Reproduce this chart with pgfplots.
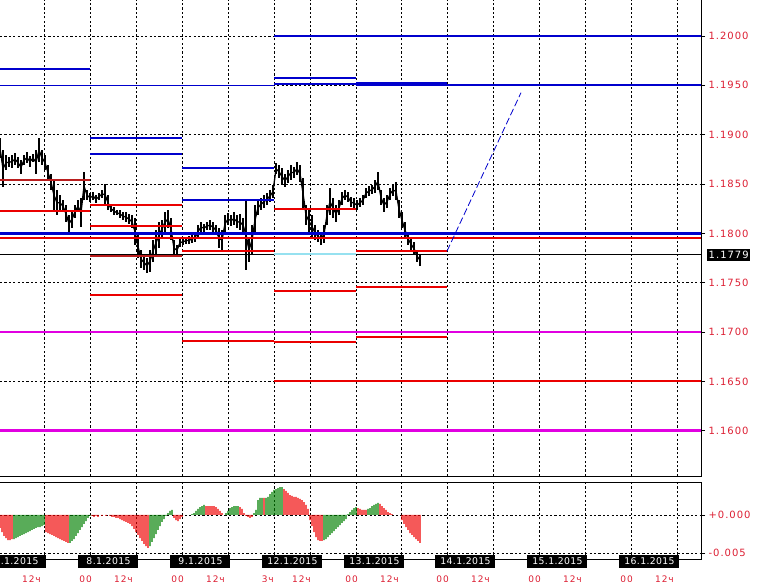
\documentclass[border=0pt]{standalone}
\usepackage{fontspec}
\setmainfont{DejaVu Sans}
\newfontfamily\lblfont[LetterSpace=10]{DejaVu Sans}
\newfontfamily\datefont[LetterSpace=4]{DejaVu Sans}
\usepackage{pgfplots}
\usepackage{pgfplotstable}
\pgfplotsset{compat=1.18}
\definecolor{lvblue}{RGB}{0,0,205}
\definecolor{lvred}{RGB}{235,0,0}
\definecolor{lvdred}{RGB}{185,30,30}
\definecolor{lvmag}{RGB}{225,0,225}
\definecolor{lvcyan}{RGB}{150,225,240}
\definecolor{lblred}{RGB}{220,30,50}
\definecolor{hgreen}{RGB}{0,128,0}
\definecolor{hred}{RGB}{240,0,0}

\pgfplotstableread{
x high low
0 1.18965 1.18763
3 1.18844 1.18469
6 1.18793 1.18641
9 1.18773 1.18672
12 1.18793 1.18662
15 1.18813 1.18692
18 1.18773 1.18662
21 1.18743 1.18601
24 1.18793 1.18692
27 1.18824 1.18712
30 1.18783 1.18672
33 1.18803 1.18722
36 1.18844 1.18601
39 1.18965 1.18722
42 1.18844 1.18692
45 1.18793 1.18641
48 1.18692 1.18540
51 1.18601 1.18439
54 1.18540 1.18236
57 1.18439 1.18185
60 1.18388 1.18236
63 1.18337 1.18216
66 1.18287 1.18115
69 1.18185 1.18013
72 1.18236 1.18054
75 1.18287 1.18155
78 1.18337 1.18216
81 1.18357 1.18064
84 1.18621 1.18337
87 1.18439 1.18337
90 1.18409 1.18317
93 1.18419 1.18337
96 1.18388 1.18307
99 1.18409 1.18337
102 1.18439 1.18357
105 1.18499 1.18287
108 1.18388 1.18236
111 1.18287 1.18216
114 1.18267 1.18185
117 1.18236 1.18185
120 1.18236 1.18155
123 1.18216 1.18135
126 1.18216 1.18115
129 1.18196 1.18094
132 1.18185 1.18054
135 1.18155 1.17881
138 1.17983 1.17750
141 1.17831 1.17649
144 1.17780 1.17628
147 1.17750 1.17598
150 1.17831 1.17608
153 1.17932 1.17710
156 1.18033 1.17780
159 1.18115 1.17851
162 1.18135 1.17952
165 1.18216 1.18013
168 1.18236 1.18054
171 1.18155 1.17932
174 1.17932 1.17770
177 1.17881 1.17780
180 1.17952 1.17861
183 1.17952 1.17881
186 1.17962 1.17891
189 1.17973 1.17891
192 1.17983 1.17901
195 1.18003 1.17912
198 1.18084 1.17952
201 1.18115 1.18013
204 1.18094 1.18013
207 1.18115 1.18033
210 1.18135 1.18033
213 1.18115 1.18013
216 1.18084 1.17983
219 1.18054 1.17851
222 1.18033 1.17831
225 1.18185 1.18013
228 1.18206 1.18084
231 1.18185 1.18074
234 1.18216 1.18084
237 1.18185 1.18054
240 1.18196 1.18033
243 1.18155 1.18013
246 1.18348 1.17628
249 1.17952 1.17710
252 1.18084 1.17780
255 1.18287 1.17983
258 1.18337 1.18185
261 1.18357 1.18236
264 1.18388 1.18256
267 1.18409 1.18287
270 1.18439 1.18317
273 1.18489 1.18357
276 1.18712 1.18601
279 1.18692 1.18560
282 1.18662 1.18489
285 1.18601 1.18469
288 1.18641 1.18509
291 1.18692 1.18540
294 1.18672 1.18560
297 1.18722 1.18591
300 1.18692 1.18520
303 1.18560 1.18256
306 1.18287 1.18084
309 1.18236 1.18013
312 1.18185 1.17952
315 1.18084 1.17932
318 1.18033 1.17912
321 1.18013 1.17881
324 1.18084 1.17901
327 1.18287 1.18084
330 1.18459 1.18185
333 1.18357 1.18155
336 1.18287 1.18115
339 1.18337 1.18185
342 1.18419 1.18287
345 1.18439 1.18337
348 1.18419 1.18317
351 1.18368 1.18267
354 1.18357 1.18256
357 1.18337 1.18236
360 1.18357 1.18267
363 1.18388 1.18287
366 1.18459 1.18357
369 1.18479 1.18378
372 1.18489 1.18398
375 1.18540 1.18409
378 1.18621 1.18439
381 1.18439 1.18287
384 1.18357 1.18216
387 1.18388 1.18256
390 1.18459 1.18337
393 1.18499 1.18378
396 1.18520 1.18337
399 1.18337 1.18155
402 1.18216 1.18054
405 1.18115 1.17952
408 1.18013 1.17881
411 1.17952 1.17831
414 1.17912 1.17780
417 1.17831 1.17710
420 1.17791 1.17669
}\pricedata

\begin{document}
\begin{tikzpicture}[x=1pt,y=1pt]
\useasboundingbox (0pt,0pt) rectangle (757pt,-581pt);
% ---------------- main price panel
\begin{axis}[
  at={(0pt,0pt)}, anchor=north west,
  scale only axis, width=701pt, height=476pt,
  xmin=0, xmax=701, ymin=1.15541, ymax=1.20365,
  axis line style={draw=none},
  xtick={44,90,136,182,228,274,310,356,401,447,493,539,585,631,677},
  xticklabels={}, xtick style={draw=none},
  ytick={1.16,1.165,1.17,1.175,1.18,1.185,1.19,1.195,1.2},
  yticklabels={1.1600,1.1650,1.1700,1.1750,1.1800,1.1850,1.1900,1.1950,1.2000},
  ytick pos=right, tick align=outside, major tick length=4pt,
  ytick style={black, line width=0.7pt},
  yticklabel style={font=\lblfont\fontsize{10}{12}\selectfont, text=lblred, anchor=west, xshift=0pt},
  xmajorgrids, ymajorgrids,
  major grid style={black, dash pattern=on 2.2pt off 2.2pt, line width=0.6pt},
]
% candles (high-low bars) and the path through their middles
\addplot[draw=none, mark=none, forget plot,
  error bars/.cd, y dir=minus, y explicit,
  error bar style={draw=black, solid, line width=2pt}, error mark=none]
  table[x=x, y=high, y error minus expr=\thisrow{high}-\thisrow{low}] {\pricedata};
\addplot[black, line width=1.3pt, mark=none, forget plot]
  table[x=x, y expr=(\thisrow{high}+\thisrow{low})/2] {\pricedata};

% full-width levels
\addplot[lvblue, line width=0.9pt] coordinates {(0,1.1950) (274,1.1950)};
\addplot[lvblue, line width=2pt] coordinates {(447,1.1950) (701,1.1950)};
\addplot[lvblue, line width=2.8pt] coordinates {(0,1.1800) (701,1.1800)};
\addplot[lvred, line width=2pt] coordinates {(0,1.1795) (701,1.1795)};
\addplot[lvmag, line width=2.8pt] coordinates {(0,1.1700) (701,1.1700)};
\addplot[lvmag, line width=2.8pt] coordinates {(0,1.1600) (701,1.1600)};
\addplot[black, line width=0.8pt] coordinates {(0,1.1779) (701,1.1779)};
\addplot[lvred, line width=2pt] coordinates {(274,1.1650) (701,1.1650)};
\addplot[lvblue, line width=2pt] coordinates {(274,1.2000) (701,1.2000)};
% day 7.1
\addplot[lvblue, line width=2pt] coordinates {(0,1.19664) (90,1.19664)};
\addplot[lvdred, line width=2pt] coordinates {(0,1.1854) (90,1.1854)};
\addplot[lvred, line width=2pt] coordinates {(0,1.1823) (90,1.1823)};
% day 8.1
\addplot[lvblue, line width=2pt] coordinates {(90,1.1897) (182,1.1897)};
\addplot[lvblue, line width=2pt] coordinates {(90,1.1880) (182,1.1880)};
\addplot[lvred, line width=2pt] coordinates {(90,1.1829) (182,1.1829)};
\addplot[lvred, line width=2pt] coordinates {(90,1.1807) (182,1.1807)};
\addplot[lvdred, line width=2pt] coordinates {(90,1.1777) (182,1.1777)};
\addplot[lvred, line width=2pt] coordinates {(90,1.1738) (182,1.1738)};
% day 9.1
\addplot[lvblue, line width=2pt] coordinates {(182,1.1866) (274,1.1866)};
\addplot[lvblue, line width=2pt] coordinates {(182,1.1834) (274,1.1834)};
\addplot[lvred, line width=2pt] coordinates {(182,1.1782) (274,1.1782)};
\addplot[lvred, line width=2pt] coordinates {(182,1.1691) (274,1.1691)};
% day 12.1
\addplot[lvblue, line width=2pt] coordinates {(274,1.1957) (356,1.1957)};
\addplot[lvblue, line width=2pt] coordinates {(274,1.1951) (356,1.1951)};
\addplot[lvred, line width=2pt] coordinates {(274,1.1825) (356,1.1825)};
\addplot[lvcyan, line width=2pt] coordinates {(274,1.1779) (356,1.1779)};
\addplot[lvred, line width=2pt] coordinates {(274,1.1742) (356,1.1742)};
\addplot[lvred, line width=2pt] coordinates {(274,1.1690) (356,1.1690)};
% day 13.1
\addplot[lvblue, line width=3.5pt] coordinates {(356,1.19515) (447,1.19515)};
\addplot[lvred, line width=2pt] coordinates {(356,1.1782) (447,1.1782)};
\addplot[lvred, line width=2pt] coordinates {(356,1.1746) (447,1.1746)};
\addplot[lvred, line width=2pt] coordinates {(356,1.1695) (447,1.1695)};
% projection
\addplot[lvblue, line width=0.8pt, dash pattern=on 7pt off 3pt] coordinates {(447,1.1782) (521,1.19426)};
\end{axis}

% ---------------- indicator panel
\begin{axis}[
  at={(0pt,-482pt)}, anchor=north west,
  scale only axis, width=701pt, height=77pt,
  xmin=0, xmax=701, ymin=-0.00579, ymax=0.00434,
  scaled y ticks=false,
  axis line style={draw=none},
  xtick={44,90,136,182,228,274,310,356,401,447,493,539,585,631,677},
  xticklabels={}, xtick style={draw=none},
  ytick={-0.005,0}, yticklabels={-0.005,+0.000},
  ytick pos=right, tick align=outside, major tick length=4pt,
  ytick style={black, line width=0.7pt},
  yticklabel style={font=\lblfont\fontsize{10}{12}\selectfont, text=lblred, anchor=west, xshift=0pt},
  xmajorgrids, ymajorgrids,
  major grid style={black, dash pattern=on 2.2pt off 2.2pt, line width=0.6pt},
]
\addplot[ybar, bar width=1.3pt, bar shift=0pt, fill=hred, draw=none] coordinates {
(0,-0.00171) (2,-0.00224) (4,-0.00276) (6,-0.00303) (8,-0.00329) (10,-0.00329) (12,-0.00316)
(46,-0.00224) (48,-0.00237) (50,-0.00250) (52,-0.00263) (54,-0.00276) (56,-0.00290) (58,-0.00303) (60,-0.00316) (62,-0.00329) (64,-0.00342) (66,-0.00355) (68,-0.00368)
(92,-0.00013) (94,-0.00026) (96,-0.00013) (98,-0.00026) (102,-0.00013) (106,-0.00013) (110,-0.00013)
(112,-0.00026) (114,-0.00026) (116,-0.00039) (118,-0.00039) (120,-0.00053) (122,-0.00066) (124,-0.00079)
(126,-0.00092) (128,-0.00105) (130,-0.00118) (132,-0.00145) (134,-0.00184) (136,-0.00224) (138,-0.00263) (140,-0.00303) (142,-0.00342) (144,-0.00381) (146,-0.00408) (148,-0.00434)
(174,-0.00039) (176,-0.00066) (178,-0.00079) (180,-0.00053) (182,-0.00026)
(206,0.00118) (208,0.00118) (210,0.00118) (212,0.00118) (214,0.00118) (216,0.00105) (218,0.00079) (220,0.00053) (222,0.00026)
(240,0.00105) (242,0.00079) (244,0.00026) (246,-0.00013) (248,-0.00026) (250,-0.00039) (252,-0.00026)
(264,0.00224) (284,0.00342) (286,0.00316) (288,0.00290) (290,0.00263) (292,0.00250) (294,0.00237) (296,0.00237) (298,0.00224) (300,0.00211) (302,0.00197) (304,0.00171) (306,0.00132) (308,0.00079)
(310,-0.00066) (312,-0.00145) (314,-0.00224) (316,-0.00290) (318,-0.00329) (320,-0.00342) (322,-0.00342)
(358,0.00092) (360,0.00079) (362,0.00066) (364,0.00066) (366,0.00066)
(380,0.00145) (382,0.00118) (384,0.00092) (386,0.00066) (388,0.00039) (390,0.00026) (392,0.00013)
(402,-0.00066) (404,-0.00118) (406,-0.00158) (408,-0.00197) (410,-0.00237) (412,-0.00263) (414,-0.00290) (416,-0.00316) (418,-0.00342) (420,-0.00368)
};
\addplot[ybar, bar width=1.3pt, bar shift=0pt, fill=hgreen, draw=none] coordinates {
(14,-0.00316) (16,-0.00303) (18,-0.00290) (20,-0.00276) (22,-0.00263) (24,-0.00250) (26,-0.00237) (28,-0.00224) (30,-0.00211) (32,-0.00197) (34,-0.00184) (36,-0.00171) (38,-0.00158) (40,-0.00158) (42,-0.00145) (44,-0.00132)
(70,-0.00368) (72,-0.00342) (74,-0.00316) (76,-0.00276) (78,-0.00237) (80,-0.00197) (82,-0.00158) (84,-0.00118) (86,-0.00079) (88,-0.00039) (90,-0.00013)
(150,-0.00408) (152,-0.00355) (154,-0.00303) (156,-0.00250) (158,-0.00197) (160,-0.00145) (162,-0.00092) (164,-0.00053) (166,-0.00013)
(168,0.00026) (170,0.00053) (172,0.00066)
(192,0.00013) (194,0.00026) (196,0.00053) (198,0.00079) (200,0.00105) (202,0.00118) (204,0.00132)
(226,0.00026) (228,0.00053) (230,0.00092) (232,0.00105) (234,0.00118) (236,0.00118) (238,0.00118)
(254,0.00026) (256,0.00066) (258,0.00197) (260,0.00224) (262,0.00224) (266,0.00224) (268,0.00237) (270,0.00276) (272,0.00303) (274,0.00329) (276,0.00342) (278,0.00355) (280,0.00368) (282,0.00368)
(324,-0.00329) (326,-0.00316) (328,-0.00290) (330,-0.00263) (332,-0.00237) (334,-0.00211) (336,-0.00184) (338,-0.00158) (340,-0.00132) (342,-0.00105) (344,-0.00079) (346,-0.00053)
(348,0.00013) (350,0.00039) (352,0.00066) (354,0.00092) (356,0.00105)
(368,0.00079) (370,0.00092) (372,0.00118) (374,0.00132) (376,0.00145) (378,0.00158)
};
\end{axis}

% ---------------- frames and labels
\draw[black, line width=0.8pt] (701pt,0pt) -- (701pt,-476pt) -- (0pt,-476pt);
\draw[black, line width=0.8pt] (0pt,-482pt) -- (701pt,-482pt) -- (701pt,-559pt) -- (0pt,-559pt);
\node[fill=black, text=white, inner xsep=1.5pt, inner ysep=1.8pt, anchor=west,
      font=\lblfont\fontsize{10}{12}\selectfont] at (707pt,-255pt) {1.1779};
\foreach \g/\d in {-2/7.1.2015, 90/8.1.2015, 182/9.1.2015, 274/12.1.2015, 356/13.1.2015, 447/14.1.2015, 539/15.1.2015, 631/16.1.2015}{
  \fill[black] (\g pt-12pt,-555pt) rectangle (\g pt+48pt,-567.5pt);
  \node[text=white, font=\datefont\fontsize{9.3}{10}\selectfont, inner sep=0pt] at (\g pt+18.5pt,-561.3pt) {\d};
}
\foreach \g in {-2,90,182,356,447,539,631}{
  \node[text=lblred, anchor=base east, inner sep=0pt, font=\lblfont\fontsize{9}{10}\selectfont] at (\g pt+2pt,-582pt) {00};
  \node[text=lblred, anchor=base east, inner sep=0pt, font=\lblfont\fontsize{9}{10}\selectfont] at (\g pt+43pt,-582pt) {12ч};
}
\node[text=lblred, anchor=base east, inner sep=0pt, font=\lblfont\fontsize{9}{10}\selectfont] at (274pt,-582pt) {3ч};
\node[text=lblred, anchor=base east, inner sep=0pt, font=\lblfont\fontsize{9}{10}\selectfont] at (311pt,-582pt) {12ч};
\end{tikzpicture}
\end{document}
